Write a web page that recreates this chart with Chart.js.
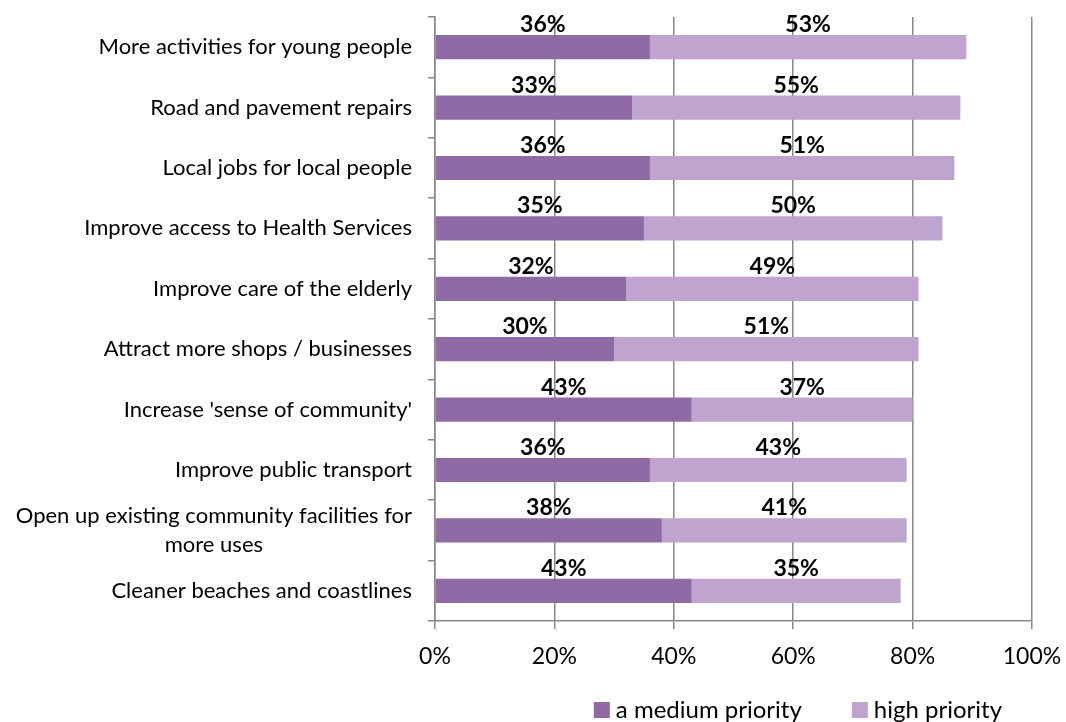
<!DOCTYPE html>
<html>
<head>
<meta charset="utf-8">
<script src="https://cdn.jsdelivr.net/npm/chart.js@4.4.1/dist/chart.umd.min.js"></script>
<style>
  html, body { margin: 0; padding: 0; background: #fff; }
  #wrap { width: 1066px; height: 722px; }
</style>
</head>
<body>
<div id="wrap"><canvas id="chart"></canvas></div>
<script>
const categories = [
    ["More activities for young people"],
    ["Road and pavement repairs"],
    ["Local jobs for local people"],
    ["Improve access to Health Services"],
    ["Improve care of the elderly"],
    ["Attract more shops / businesses"],
    ["Increase 'sense of community'"],
    ["Improve public transport"],
    ["Open up existing community facilities for", "more uses"],
    ["Cleaner beaches and coastlines"]
];
const mediumPriority = [36, 33, 36, 35, 32, 30, 43, 36, 38, 43];
const highPriority = [53, 55, 51, 50, 49, 51, 37, 43, 41, 35];
const xTicks = [0, 20, 40, 60, 80, 100];

const FONT = "Lato, 'Open Sans', sans-serif";
const GRID = "#878787";

// segment value labels, sitting just above each bar
const barLabels = {
    id: "barLabels",
    afterDatasetsDraw(chart) {
        const ctx = chart.ctx;
        ctx.save();
        ctx.font = "bold 23px " + FONT;
        ctx.fillStyle = "#000";
        ctx.textAlign = "center";
        ctx.textBaseline = "alphabetic";
        chart.data.datasets.forEach((ds, i) => {
            chart.getDatasetMeta(i).data.forEach((bar, j) => {
                const p = bar.getProps(["x", "y", "base", "height"], true);
                ctx.fillText(ds.data[j] + "%", (p.x + p.base) / 2, p.y - p.height / 2 - 3);
            });
        });
        ctx.restore();
    }
};

// category labels: block right aligned, lines centred inside the block
const categoryLabels = {
    id: "categoryLabels",
    afterDraw(chart) {
        const ctx = chart.ctx;
        const yScale = chart.scales.y;
        const right = yScale.right - 23;
        const lineH = 29;
        ctx.save();
        ctx.font = "22px " + FONT;
        ctx.fillStyle = "#000";
        ctx.textAlign = "center";
        ctx.textBaseline = "middle";
        categories.forEach((lines, j) => {
            const w = Math.max(...lines.map(l => ctx.measureText(l).width));
            const cx = right - w / 2;
            const cy = yScale.getPixelForValue(j);
            lines.forEach((l, k) => {
                ctx.fillText(l, cx, cy + (k - (lines.length - 1) / 2) * lineH);
            });
        });
        ctx.restore();
    }
};

// legend under the axis
const bottomLegend = {
    id: "bottomLegend",
    afterDraw(chart) {
        const ctx = chart.ctx;
        const y = 710;
        const box = 16;
        ctx.save();
        ctx.font = "24px " + FONT;
        ctx.textBaseline = "middle";
        ctx.textAlign = "left";
        const items = chart.data.datasets.map(ds => ({ text: ds.label, color: ds.backgroundColor }));
        const gap = 50;
        const widths = items.map(it => box + 6 + ctx.measureText(it.text).width);
        let x = 1002 - widths.reduce((a, b) => a + b, 0) - gap * (items.length - 1);
        items.forEach((it, i) => {
            ctx.fillStyle = it.color;
            ctx.fillRect(x, y - box / 2, box, box);
            ctx.fillStyle = "#000";
            ctx.fillText(it.text, x + box + 6, y);
            x += widths[i] + gap;
        });
        ctx.restore();
    }
};

new Chart(document.getElementById("chart"), {
    type: "bar",
    data: {
        labels: categories,
        datasets: [{
            label: "a medium priority",
            data: mediumPriority,
            backgroundColor: "#8F6AA5",
            barPercentage: 0.4,
            categoryPercentage: 1
        }, {
            label: "high priority",
            data: highPriority,
            backgroundColor: "#BFA4CF",
            barPercentage: 0.4,
            categoryPercentage: 1
        }]
    },
    options: {
        indexAxis: "y",
        responsive: true,
        maintainAspectRatio: false,
        animation: false,
        devicePixelRatio: 1,
        layout: { padding: { top: 17, right: 34, bottom: 0, left: 0 } },
        plugins: {
            legend: { display: false },
            tooltip: { enabled: false }
        },
        scales: {
            x: {
                stacked: true,
                min: 0,
                max: 100,
                afterBuildTicks: scale => { scale.ticks = xTicks.map(v => ({ value: v })); },
                afterFit: scale => {
                    scale.height = 101;
                    scale.paddingLeft = 0;
                    scale.paddingRight = 0;
                },
                border: { color: GRID, width: 1.5 },
                grid: { color: GRID, lineWidth: 1.5, tickLength: 8 },
                ticks: {
                    color: "#000",
                    padding: 14,
                    font: { family: FONT, size: 23 },
                    callback: v => v + "%"
                }
            },
            y: {
                stacked: true,
                afterFit: scale => { scale.width = 435; },
                border: { color: GRID, width: 1.5 },
                grid: { color: GRID, lineWidth: 1.5, drawOnChartArea: false, tickLength: 7, offset: true },
                ticks: { display: false }
            }
        }
    },
    plugins: [barLabels, categoryLabels, bottomLegend]
});
</script>
</body>
</html>
